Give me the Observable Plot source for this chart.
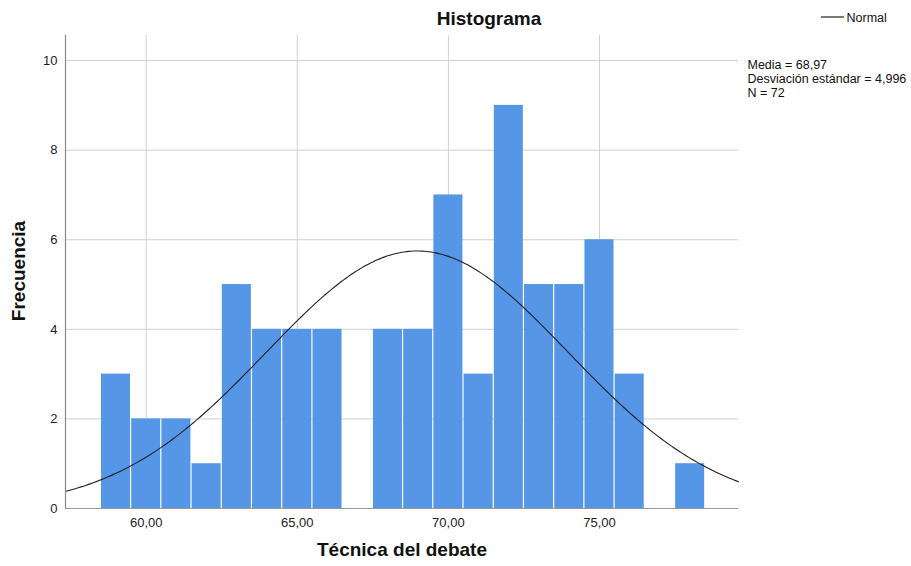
<!DOCTYPE html>
<html><head><meta charset="utf-8">
<script src="https://cdn.jsdelivr.net/npm/d3@7"></script>
<script src="https://cdn.jsdelivr.net/npm/@observablehq/plot@0.6"></script>
<style>html,body{margin:0;padding:0;background:#fff;}svg{display:block;}</style>
</head><body><div id="chart"></div>
<script>
const binCenters = [59,60,61,62,63,64,65,66,67,68,69,70,71,72,73,74,75,76,77,78];
const counts =     [3, 2, 2, 1, 5, 4, 4, 4, 0, 4, 4, 7, 3, 9, 5, 5, 6, 3, 0, 1];
const xTicks = [60,65,70,75];
const xTickLabels = ["60,00","65,00","70,00","75,00"];
const yTicks = [0,2,4,6,8,10];
const stats = ["Media = 68,97","Desviación estándar = 4,996","N = 72"];
const mean = 68.97, sd = 4.996, n = 72, binWidth = 1;

const bins = binCenters.map((c,i)=>({x1:c-binWidth/2, x2:c+binWidth/2, y:counts[i]})).filter(d=>d.y>0);
const xDomain = [57.33, 79.6];
const curve = d3.range(0,301).map(i=>{
  const x = xDomain[0] + (xDomain[1]-xDomain[0])*i/300;
  const z = (x-mean)/sd;
  return {x, y: n*binWidth*Math.exp(-0.5*z*z)/(sd*Math.sqrt(2*Math.PI))};
});
const font = "'Liberation Sans', Arial, sans-serif";

const chart = Plot.plot({
  width: 911, height: 566,
  marginLeft: 65, marginRight: 173, marginTop: 35, marginBottom: 58,
  style: {fontFamily: font, background: "#fff"},
  x: {domain: xDomain, axis: null},
  y: {domain: [0, 10.56], axis: null},
  marks: [
    Plot.ruleX(xTicks, {stroke: "#d0d0d0", strokeWidth: 1}),
    Plot.ruleY(yTicks.filter(d=>d>0), {stroke: "#d0d0d0", strokeWidth: 1}),
    Plot.rectY(bins, {x1:"x1", x2:"x2", y:"y", fill:"#5596E6", insetLeft:0.6, insetRight:0.6}),
    Plot.line(curve, {x:"x", y:"y", stroke:"#222", strokeWidth:1.1}),
    Plot.ruleX([xDomain[0]], {stroke:"#888", strokeWidth:1.2}),
    Plot.ruleY([0], {stroke:"#999", strokeWidth:1.2}),
    Plot.text(yTicks, {x: xDomain[0], y: d=>d, text: d=>String(d), dx: -8, textAnchor: "end", fontSize: 13, fill: "#222"}),
    Plot.text(xTicks, {x: d=>d, y: 0, text: (d,i)=>xTickLabels[i], dy: 14, fontSize: 13, fill: "#222"}),
    Plot.text(["Técnica del debate"], {frameAnchor: "bottom", dy: 47, fontSize: 19, fontWeight: "bold", fill: "#111"}),
    Plot.text(["Histograma"], {frameAnchor: "top", dx: 87, dy: -24, fontSize: 19, fontWeight: "bold", fill: "#111"}),
    Plot.text([stats.join("\n")], {frameAnchor: "top-right", dx: 9, dy: 24, textAnchor: "start", lineAnchor: "top", fontSize: 12.5, fill: "#111", lineHeight: 1.1}),
    Plot.text(["Normal"], {frameAnchor: "top-right", dx: 108, dy: -22, textAnchor: "start", fontSize: 12.5, fill: "#111"})
  ]
});
const svg = d3.select(chart);
svg.append("line").attr("x1",821).attr("x2",844).attr("y1",17).attr("y2",17).attr("stroke","#222").attr("stroke-width",1.2);
svg.append("text").attr("transform","translate(25,271) rotate(-90)").attr("text-anchor","middle")
  .attr("font-family",font).attr("font-size",19).attr("font-weight","bold").attr("fill","#111").text("Frecuencia");
document.getElementById("chart").append(chart);
</script></body></html>
